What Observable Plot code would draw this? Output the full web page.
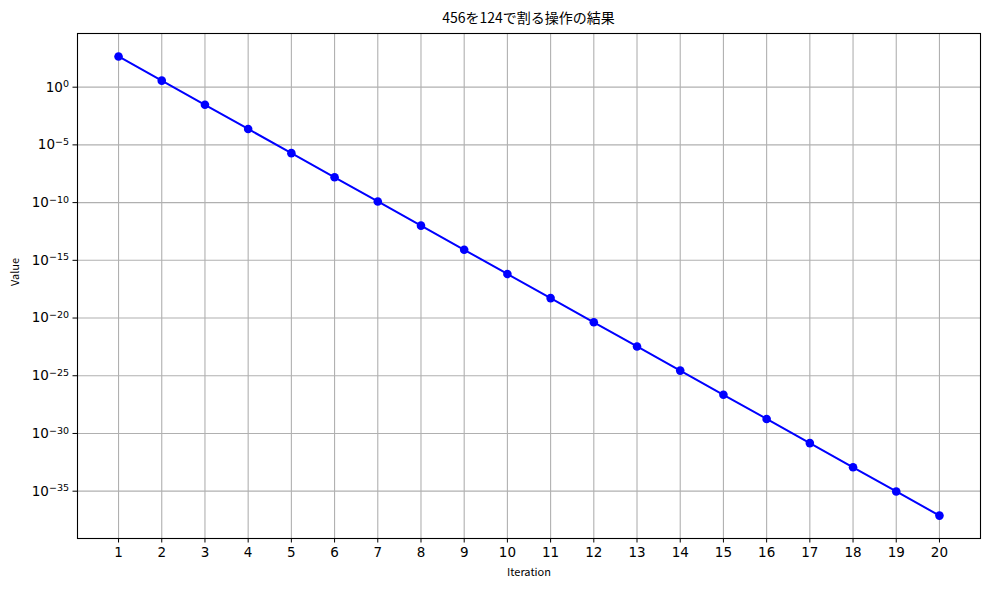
<!DOCTYPE html>
<html>
<head>
<meta charset="utf-8">
<script src="https://cdn.jsdelivr.net/npm/d3@7"></script>
<script src="https://cdn.jsdelivr.net/npm/@observablehq/plot@0.6"></script>
<style>
  body { margin: 0; background: #fff; }
  #wrap { position: relative; width: 989px; height: 590px; }
  #title {
    position: absolute; left: 77px; width: 903px; top: 7px;
    text-align: center; font-family: "Noto Sans CJK JP", sans-serif;
    font-size: 14px; color: #000; line-height: 20px;
  }
  #chart { position: absolute; left: 0; top: 28px; }
</style>
</head>
<body>
<div id="wrap">
  <div id="title">456を124で割る操作の結果</div>
  <div id="chart"></div>
</div>
<script>
const iterations = [1, 2, 3, 4, 5, 6, 7, 8, 9, 10, 11, 12, 13, 14, 15, 16, 17, 18, 19, 20];
const values = [
  456, 3.677419, 2.96566e-2, 2.39166e-4, 1.92876e-6, 1.55545e-8, 1.25439e-10,
  1.01161e-12, 8.15814e-15, 6.57914e-17, 5.30576e-19, 4.27884e-21, 3.45068e-23,
  2.78281e-25, 2.24420e-27, 1.80984e-29, 1.45955e-31, 1.17705e-33, 9.49234e-36, 7.65511e-38
];
const yTickExps = [0, -5, -10, -15, -20, -25, -30, -35];
const yTicks = yTickExps.map(e => Math.pow(10, e));

const data = iterations.map((it, i) => ({iteration: it, value: values[i]}));
const gridColor = "#b0b0b0";

const chart = Plot.plot({
  width: 989,
  height: 562,
  marginTop: 5,
  marginBottom: 52,
  marginLeft: 77,
  marginRight: 9,
  style: {
    fontFamily: "DejaVu Sans, sans-serif",
    fontSize: "13.5px",
    color: "#000",
    background: "#fff",
    overflow: "visible",
  },
  x: { type: "linear", domain: [0.05, 20.95] },
  y: { type: "log", domain: [Math.pow(10, -39.1), Math.pow(10, 4.65)] },
  marks: [
    Plot.gridX(iterations, {stroke: gridColor, strokeOpacity: 1, strokeWidth: 1.1}),
    Plot.gridY(yTicks, {stroke: gridColor, strokeOpacity: 1, strokeWidth: 1.1}),
    Plot.axisX(iterations, {
      tickSize: 4.5, tickPadding: 4, label: null, tickFormat: d => String(d), fontSize: 13.5
    }),
    Plot.axisY(yTicks, {
      tickSize: 4.5, tickPadding: 4, label: null, fontSize: 13.5,
      tickFormat: d => "10^" + Math.round(Math.log10(d))
    }),
    Plot.frame({stroke: "#000", strokeWidth: 1.1}),
    Plot.line(data, {x: "iteration", y: "value", stroke: "#0000ff", strokeWidth: 2}),
    Plot.dot(data, {x: "iteration", y: "value", fill: "#0000ff", r: 4.3}),
    Plot.text(["Iteration"], {
      frameAnchor: "bottom", dy: 37, fontFamily: "Noto Sans CJK JP, sans-serif", fontSize: 11
    }),
    Plot.text(["Value"], {
      frameAnchor: "left", dx: -62, rotate: -90, fontFamily: "Noto Sans CJK JP, sans-serif", fontSize: 11
    }),
  ],
});

d3.select("#chart").append(() => chart);

// turn "10^-5" into 10 with a real superscript
d3.select(chart).selectAll('g[aria-label="y-axis tick label"] text').each(function () {
  const t = d3.select(this);
  const parts = t.text().split("^");
  if (parts.length !== 2) return;
  const exp = parts[1].replace("-", "\u2212");
  t.text(null);
  t.append("tspan").text(parts[0]);
  t.append("tspan").attr("dy", "-0.45em").attr("font-size", "9.5px").text(exp);
});
</script>
</body>
</html>
